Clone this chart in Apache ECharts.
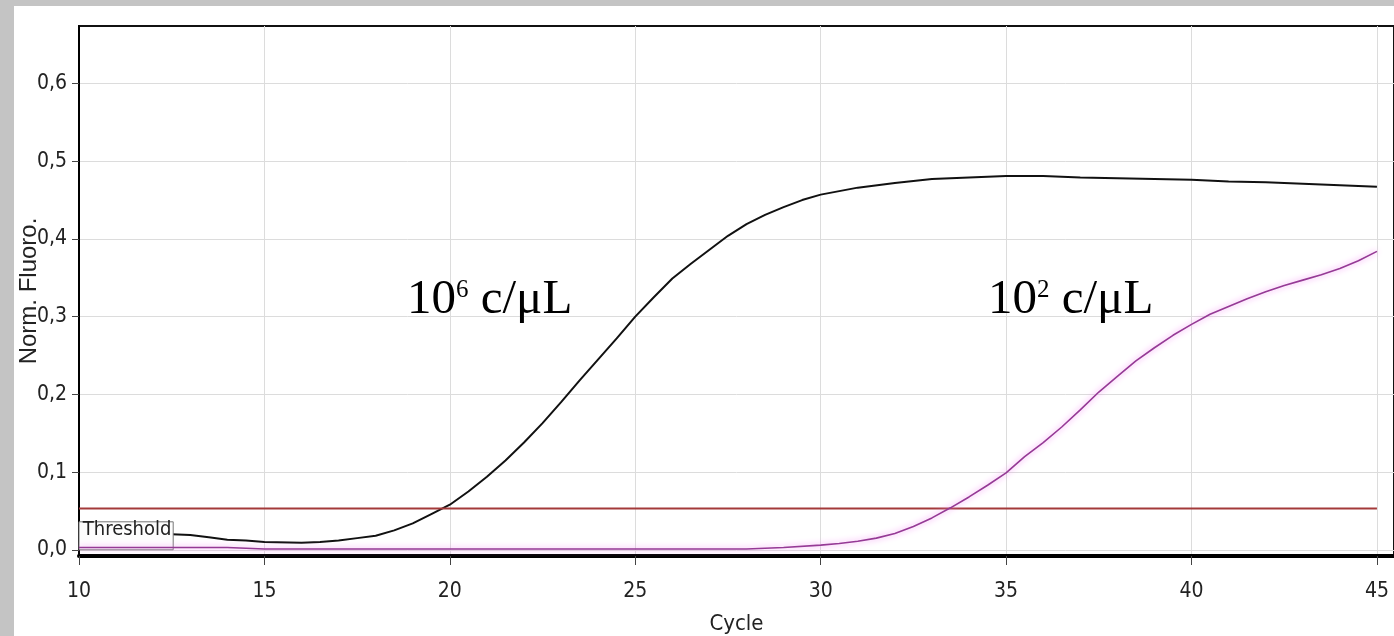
<!DOCTYPE html>
<html>
<head>
<meta charset="utf-8">
<script src="https://cdn.jsdelivr.net/npm/echarts@6/dist/echarts.min.js"></script>
<style>
  html, body { margin: 0; padding: 0; width: 1394px; height: 636px; overflow: hidden; background: #c4c4c4; }
  #chart { position: absolute; left: 14px; top: 6px; width: 1380px; height: 630px; background: #fff; }
</style>
</head>
<body>
<div id="chart"></div>
<script>
// amplification curves
const highCycles = [10, 11, 12, 12.5, 13, 13.5, 14, 14.5, 15, 16, 16.5, 17, 17.5, 18, 18.5, 19, 19.5, 20,
  20.5, 21, 21.5, 22, 22.5, 23, 23.5, 24, 24.5, 25, 25.5, 26, 26.5, 27, 27.5, 28, 28.5, 29, 29.5, 30,
  31, 32, 33, 34, 35, 36, 37, 38, 39, 40, 41, 42, 43, 44, 45];
const highValues = [0.02, 0.02, 0.02, 0.02, 0.019, 0.016, 0.013, 0.012, 0.01, 0.009, 0.01, 0.012, 0.015, 0.018, 0.025, 0.034, 0.046, 0.058,
  0.075, 0.094, 0.115, 0.138, 0.163, 0.19, 0.218, 0.245, 0.272, 0.30, 0.325, 0.349, 0.368, 0.386, 0.404, 0.419, 0.431, 0.441, 0.45, 0.457,
  0.466, 0.472, 0.477, 0.479, 0.481, 0.481, 0.479, 0.478, 0.477, 0.476, 0.474, 0.473, 0.471, 0.469, 0.467];

const lowCycles = [10, 11, 12, 13, 14, 14.5, 15, 20, 25, 28, 29, 30,
  30.5, 31, 31.5, 32, 32.5, 33, 33.5, 34, 34.5, 35, 35.5, 36, 36.5, 37, 37.5, 38, 38.5, 39, 39.5, 40,
  40.5, 41, 41.5, 42, 42.5, 43, 43.5, 44, 44.5, 45];
const lowValues = [0.003, 0.003, 0.003, 0.003, 0.003, 0.002, 0.001, 0.001, 0.001, 0.001, 0.003, 0.006,
  0.008, 0.011, 0.015, 0.021, 0.03, 0.041, 0.054, 0.068, 0.083, 0.099, 0.12, 0.138, 0.158, 0.18, 0.203, 0.223, 0.243, 0.26, 0.276, 0.29,
  0.303, 0.313, 0.323, 0.332, 0.34, 0.347, 0.354, 0.362, 0.372, 0.384];

const threshold = 0.053;
const thresholdCycles = [10, 45];
const thresholdBox = [10, 12.54, 0, 0.036];

const xTicks = [10, 15, 20, 25, 30, 35, 40, 45];
const yTicks = [0, 0.1, 0.2, 0.3, 0.4, 0.5, 0.6];

const curveTexts = [
  { base: '10', exp: '6', unit: 'c/\u03bcL' },
  { base: '10', exp: '2', unit: 'c/\u03bcL' }
];

const narrow = "'DejaVu Sans Condensed', 'Liberation Sans Narrow', 'Liberation Sans', Arial, sans-serif";
const serif = "'Liberation Serif', 'Times New Roman', serif";

const chart = echarts.init(document.getElementById('chart'));

const labelRich = {
  b: { fontFamily: serif, fontSize: 49, color: '#000' },
  s: { fontFamily: serif, fontSize: 25, color: '#000', verticalAlign: 'top', padding: [2, 0, 0, 0] }
};
const curveLabel = (t, left) => ({
  type: 'text',
  left: left,
  top: 270,
  z: 100,
  style: { text: `{b|${t.base}}{s|${t.exp}}{b| ${t.unit}}`, rich: labelRich }
});

chart.setOption({
  animation: false,
  grid: {
    left: 65, top: 20, right: 0, bottom: 80,
    outerBoundsMode: 'none', containLabel: false,
    show: true, borderColor: '#111', borderWidth: 2
  },
  xAxis: {
    type: 'value',
    min: 10,
    max: 45.46,
    name: 'Cycle',
    nameLocation: 'middle',
    nameGap: 57,
    nameMoveOverlap: false,
    nameTextStyle: { fontFamily: narrow, fontSize: 22, color: '#222' },
    axisLine: { show: true, onZero: false, lineStyle: { color: '#000', width: 4 } },
    axisTick: { show: true, customValues: xTicks, length: 9, lineStyle: { color: '#444' } },
    axisLabel: { customValues: xTicks, margin: 25, fontFamily: narrow, fontSize: 21, color: '#222' },
    splitLine: { show: true, lineStyle: { color: '#dcdcdc', width: 1 } }
  },
  yAxis: {
    type: 'value',
    min: -0.008,
    max: 0.674,
    name: 'Norm. Fluoro.',
    nameLocation: 'middle',
    nameGap: 38,
    nameMoveOverlap: false,
    nameTextStyle: { fontFamily: "'Liberation Sans', Arial, sans-serif", fontSize: 24, color: '#222' },
    axisLine: { show: true, lineStyle: { color: '#000', width: 2 } },
    axisTick: { show: true, customValues: yTicks, length: 7, lineStyle: { color: '#444' } },
    axisLabel: {
      customValues: yTicks,
      margin: 12,
      fontFamily: narrow,
      fontSize: 21,
      color: '#222',
      formatter: v => v.toFixed(1).replace('.', ',')
    },
    splitLine: { show: true, lineStyle: { color: '#dcdcdc', width: 1 } }
  },
  series: [
    {
      type: 'line',
      name: '10^6 c/uL',
      data: highCycles.map((c, i) => [c, highValues[i]]),
      showSymbol: false,
      z: 2,
      lineStyle: { color: '#111', width: 2 }
    },
    {
      type: 'line',
      name: 'Threshold',
      data: thresholdCycles.map(c => [c, threshold]),
      showSymbol: false,
      z: 3,
      lineStyle: { color: '#a33a3a', width: 2 },
      markArea: {
        silent: true,
        z: 4,
        itemStyle: { color: '#fdfdfd', borderColor: '#777', borderWidth: 1 },
        label: {
          show: true,
          position: 'inside',
          offset: [1, -6],
          fontFamily: narrow,
          fontSize: 20,
          color: '#222'
        },
        data: [[
          { name: 'Threshold', coord: [thresholdBox[0], thresholdBox[2]] },
          { coord: [thresholdBox[1], thresholdBox[3]] }
        ]]
      }
    },
    {
      type: 'line',
      name: '10^2 c/uL',
      data: lowCycles.map((c, i) => [c, lowValues[i]]),
      showSymbol: false,
      z: 5,
      lineStyle: { color: '#953a95', width: 1.6, shadowColor: '#f080f0', shadowBlur: 6 }
    }
  ],
  graphic: [curveLabel(curveTexts[0], 393), curveLabel(curveTexts[1], 974)]
});
</script>
</body>
</html>
